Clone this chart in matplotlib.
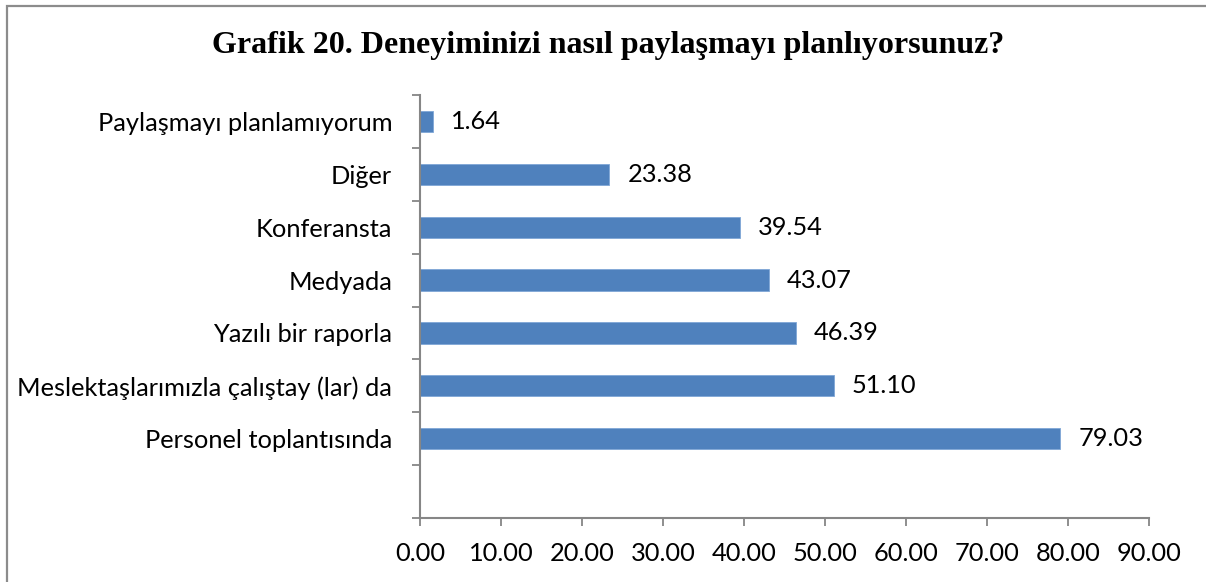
import matplotlib.pyplot as plt
from matplotlib.patches import Rectangle
import numpy as np

# categories from bottom to top (the bottom slot is empty in the original)
categories = ["", "Personel toplantısında", "Meslektaşlarımızla çalıştay (lar) da",
              "Yazılı bir raporla", "Medyada", "Konferansta", "Diğer",
              "Paylaşmayı planlamıyorum"]
values = [None, 79.03, 51.10, 46.39, 43.07, 39.54, 23.38, 1.64]
x_ticks = [0, 10, 20, 30, 40, 50, 60, 70, 80, 90]
title = "Grafik 20. Deneyiminizi nasıl paylaşmayı planlıyorsunuz?"

label_font = "Lato"
fs = 18.3
axis_gray = "#868686"
bar_color = "#4F81BD"

fig = plt.figure(figsize=(12.06, 5.82), dpi=100)
ax = fig.add_axes([420/1206, 1 - 518/582, (1149 - 420)/1206, (518 - 95)/582])

pos = [i for i, v in enumerate(values) if v is not None]
vals = [values[i] for i in pos]
ax.barh(pos, vals, height=0.4, color=bar_color, edgecolor="#7FA6D6", linewidth=0.6)

for p, v in zip(pos, vals):
    ax.annotate(f"{v:.2f}", (v, p), xytext=(13, 0), textcoords="offset points",
                va="center", ha="left", fontsize=fs, family=label_font)

ax.set_xlim(0, 90)
ax.set_ylim(-0.5, len(categories) - 0.5)

ax.set_xticks(x_ticks)
ax.set_xticklabels([f"{t:.2f}" for t in x_ticks], fontsize=fs, family=label_font)
ax.tick_params(axis="x", length=6, width=1.3, color=axis_gray, pad=11)

# tick marks between categories, labels at the centers
ax.set_yticks(np.arange(-0.5, len(categories), 1.0))
ax.set_yticklabels([])
ax.set_yticks(range(len(categories)), minor=True)
ax.set_yticklabels(categories, minor=True, fontsize=fs, family=label_font)
ax.tick_params(axis="y", which="major", length=6, width=1.3, color=axis_gray)
ax.tick_params(axis="y", which="minor", length=0, pad=20)

for s in ["top", "right"]:
    ax.spines[s].set_visible(False)
for s in ["left", "bottom"]:
    ax.spines[s].set_color(axis_gray)
    ax.spines[s].set_linewidth(1.5)

fig.text(0.504, 1 - 45/582, title, ha="center", va="center", fontsize=23,
         fontweight="bold", family="Liberation Serif")

# outer chart border (right and bottom edges fall outside the picture)
fig.patches.append(Rectangle((6.5/1206, -0.05), 1.1, 1 - 6/582 + 0.05,
                             transform=fig.transFigure, fill=False,
                             edgecolor="#8C8C8C", linewidth=1.6))

fig.savefig("out.png", dpi=100)
